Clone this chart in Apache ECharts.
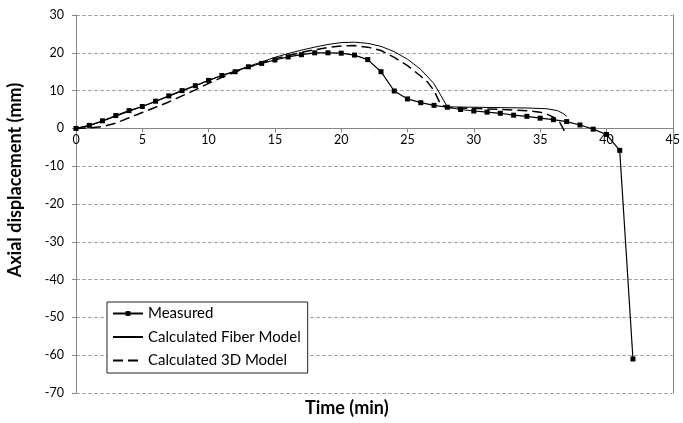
<!DOCTYPE html>
<html>
<head>
<meta charset="utf-8">
<script src="https://cdn.jsdelivr.net/npm/echarts@6/dist/echarts.min.js"></script>
<style>
  html, body { margin: 0; padding: 0; background: #fff; }
  #chart { width: 683px; height: 423px; }
</style>
</head>
<body>
<div id="chart"></div>
<script>
// measured points, one per minute
const measuredTime = [0, 1, 2, 3, 4, 5, 6, 7, 8, 9, 10, 11, 12, 13, 14, 15, 16, 17, 18, 19, 20,
  21, 22, 23, 24, 25, 26, 27, 28, 29, 30, 31, 32, 33, 34, 35, 36, 37, 38, 39, 40, 41, 42];
const measuredDisp = [0, 0.8, 2.0, 3.4, 4.7, 5.8, 7.2, 8.6, 10.0, 11.3, 12.7, 14.0, 15.0, 16.3, 17.2, 18.1,
  18.9, 19.5, 20.0, 20.0, 19.9, 19.4, 18.2, 15.0, 9.9, 7.8, 6.8, 6.1, 5.6, 5.0, 4.6, 4.3, 4.0, 3.5, 3.2,
  2.7, 2.3, 1.8, 0.9, -0.2, -1.6, -5.8, -61];

// calculated fiber model
const fiberTime = [0, 1, 2, 3, 4, 5, 6, 7, 8, 9, 10, 11, 12, 13, 14, 15, 16, 17, 18, 19, 20, 21, 22,
  23, 24, 25, 26, 27, 27.5, 28, 30, 32, 34, 35.5, 36.3, 36.7, 37];
const fiberDisp = [0, 0.7, 1.9, 3.2, 4.5, 5.8, 7.1, 8.5, 9.9, 11.3, 12.7, 14.0, 15.2, 16.4, 17.6, 18.8,
  19.8, 20.7, 21.5, 22.2, 22.7, 22.8, 22.5, 21.7, 20.3, 18.3, 15.6, 11.8, 8.8, 5.7, 5.6, 5.5, 5.4, 5.2,
  4.7, 4.0, 3.2];

// calculated 3D model
const modelTime = [0, 1, 2, 3, 4, 5, 6, 7, 8, 9, 10, 11, 12, 13, 14, 15, 16, 17, 18, 19, 20, 21, 22,
  23, 24, 25, 26, 26.5, 27, 27.5, 28, 30, 32, 34, 35, 35.5, 36, 36.5, 37];
const modelDisp = [0, 0.1, 0.5, 1.4, 2.8, 4.2, 5.6, 7.0, 8.6, 10.2, 11.9, 13.5, 14.9, 16.2, 17.3, 18.4,
  19.3, 20.1, 20.8, 21.4, 21.8, 21.9, 21.5, 20.6, 18.8, 16.6, 13.8, 12.3, 10.0, 6.3, 5.5, 5.3, 5.0, 4.7,
  4.3, 3.8, 3.0, 1.5, -1.8];

const xTicks = { min: 0, max: 45, interval: 5 };
const yTicks = { min: -70, max: 30, interval: 10 };

const zip = (xs, ys) => xs.map((x, i) => [x, ys[i]]);

const font = 'Lato, "Open Sans", sans-serif';
const gridBox = { left: 76, right: 9, top: 15, bottom: 30 };
// lift the x axis (line + labels) up to y = 0
const plotHeight = 423 - gridBox.top - gridBox.bottom;
const zeroOffset = -plotHeight * (0 - yTicks.min) / (yTicks.max - yTicks.min);

const chart = echarts.init(document.getElementById('chart'));

chart.setOption({
  backgroundColor: '#fff',
  animation: false,
  grid: gridBox,
  legend: {
    orient: 'vertical',
    left: 107,
    top: 302,
    padding: [4, 7, 5, 5],
    itemWidth: 30,
    itemHeight: 6,
    itemGap: 8.5,
    backgroundColor: '#fff',
    borderColor: '#222',
    borderWidth: 1,
    borderRadius: 0,
    textStyle: { fontFamily: font, fontSize: 15, color: '#000' },
    data: [
      { name: 'Measured' },
      { name: 'Calculated Fiber Model', itemStyle: { opacity: 0 } },
      { name: 'Calculated 3D Model', itemStyle: { opacity: 0 } }
    ]
  },
  xAxis: {
    type: 'value',
    position: 'bottom',
    offset: zeroOffset,
    min: xTicks.min,
    max: xTicks.max,
    interval: xTicks.interval,
    axisLine: { onZero: false, lineStyle: { color: '#868686', width: 1 } },
    axisTick: { show: true, length: 4, lineStyle: { color: '#868686' } },
    axisLabel: { fontFamily: font, fontSize: 12.5, color: '#000', margin: 5 },
    splitLine: { show: false }
  },
  yAxis: [
    {
      type: 'value',
      min: yTicks.min,
      max: yTicks.max,
      interval: yTicks.interval,
      axisLine: { show: true, onZero: false, lineStyle: { color: '#868686', width: 1 } },
      axisTick: { show: true, length: 4, lineStyle: { color: '#868686' } },
      axisLabel: { fontFamily: font, fontSize: 12.5, color: '#000', margin: 12 },
      splitLine: { show: true, lineStyle: { color: '#a6a6a6', type: [4, 2], width: 1 } }
    },
    {
      type: 'value',
      position: 'right',
      min: yTicks.min,
      max: yTicks.max,
      interval: yTicks.interval,
      axisLine: { show: true, onZero: false, lineStyle: { color: '#868686', width: 1 } },
      axisTick: { show: false },
      axisLabel: { show: false },
      splitLine: { show: false }
    }
  ],
  graphic: [
    {
      type: 'text',
      left: 305,
      top: 399,
      style: { text: 'Time (min)', font: 'bold 18px ' + font, fill: '#000' }
    },
    {
      type: 'text',
      x: 15,
      y: 180,
      rotation: Math.PI / 2,
      style: {
        text: 'Axial displacement (mm)',
        font: 'bold 18px ' + font,
        fill: '#000',
        align: 'center',
        verticalAlign: 'middle'
      }
    }
  ],
  series: [
    {
      name: 'Calculated Fiber Model',
      type: 'line',
      data: zip(fiberTime, fiberDisp),
      showSymbol: false,
      symbol: 'none',
      lineStyle: { color: '#000', width: 1 },
      itemStyle: { color: '#000' },
      z: 2
    },
    {
      name: 'Calculated 3D Model',
      type: 'line',
      data: zip(modelTime, modelDisp),
      showSymbol: false,
      symbol: 'none',
      lineStyle: { color: '#000', width: 1.5, type: [10, 5] },
      itemStyle: { color: '#000' },
      z: 2
    },
    {
      name: 'Measured',
      type: 'line',
      data: zip(measuredTime, measuredDisp),
      symbol: 'rect',
      symbolSize: 5,
      lineStyle: { color: '#000', width: 1.2 },
      itemStyle: { color: '#000' },
      z: 3
    }
  ]
});
</script>
</body>
</html>
